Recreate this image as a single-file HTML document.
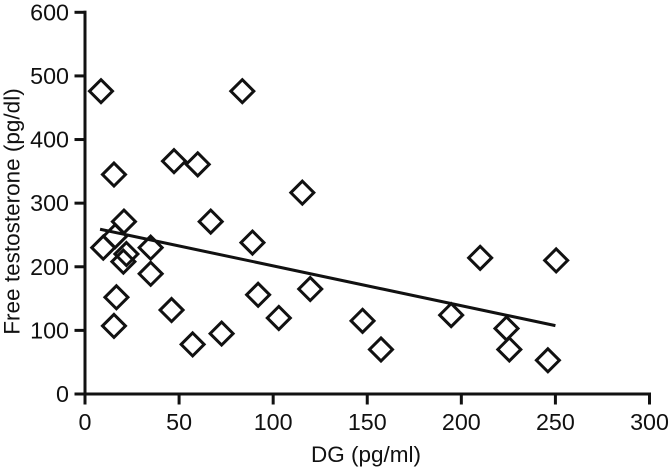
<!DOCTYPE html>
<html>
<head>
<meta charset="utf-8">
<title>DG vs free testosterone</title>
<style>
html,body{margin:0;padding:0;background:#fff;}
svg{display:block;}
text{font-family:"Liberation Sans",Arial,sans-serif;fill:#111;}
</style>
</head>
<body>
<svg id="chart" width="670" height="470" viewBox="0 0 670 470" xmlns="http://www.w3.org/2000/svg">
<text x="366" y="462" font-size="22.5" text-anchor="middle">DG (pg/ml)</text>
<text transform="translate(19.5 211.5) rotate(-90)" font-size="22.5" text-anchor="middle">Free testosterone (pg/dl)</text>
</svg>
<script>
const xTicks = [0, 50, 100, 150, 200, 250, 300];
const yTicks = [0, 100, 200, 300, 400, 500, 600];
const dgValues = [8.5, 83.6, 15.4, 47.3, 59.9, 115.5, 20.7, 66.8, 89, 9.7, 16, 22, 20.4, 34.9, 34.9, 16.7, 15.4, 46, 57.2, 72.6, 92, 103, 119.7, 147.5, 157.3, 194.6, 210, 250.4, 224, 225.5, 246];
const testosteroneValues = [476, 476, 345, 366, 361, 316.5, 271, 271, 238, 230, 248, 220, 208, 230, 189, 152, 107, 132, 78, 95, 156, 119.5, 165, 115, 70, 124, 214, 210, 103, 70, 53];
const trendX = [8, 250];
const trendY = [259, 107.5];

const svgNS = 'http://www.w3.org/2000/svg';
const svg = document.getElementById('chart');
const xAt = v => 85 + v * (564.5 / 300);
const yAt = v => 394 - v * (381.7 / 600);

function addLine(x1, y1, x2, y2, width, name) {
  const el = document.createElementNS(svgNS, 'line');
  el.setAttribute('x1', x1);
  el.setAttribute('y1', y1);
  el.setAttribute('x2', x2);
  el.setAttribute('y2', y2);
  el.setAttribute('stroke', '#111');
  el.setAttribute('stroke-width', width);
  el.setAttribute('stroke-linecap', 'square');
  
  
  svg.appendChild(el);
}

addLine(xAt(0), yAt(0), xAt(300), yAt(0), 3, 'x-axis-line');
addLine(xAt(0), yAt(0), xAt(0), yAt(600), 3, 'y-axis-line');

xTicks.forEach(t => {
  addLine(xAt(t), yAt(0), xAt(t), yAt(0) + 9, 3, 'x-axis-tick');
  const label = document.createElementNS(svgNS, 'text');
  label.setAttribute('x', xAt(t));
  label.setAttribute('y', 430);
  label.setAttribute('font-size', '23.3');
  label.setAttribute('text-anchor', 'middle');
  
  
  label.textContent = t;
  svg.appendChild(label);
});

yTicks.forEach(t => {
  addLine(xAt(0) - 9, yAt(t), xAt(0), yAt(t), 3, 'y-axis-tick');
  const label = document.createElementNS(svgNS, 'text');
  label.setAttribute('x', 69);
  label.setAttribute('y', yAt(t) + 8);
  label.setAttribute('font-size', '23.3');
  label.setAttribute('text-anchor', 'end');
  
  
  label.textContent = t;
  svg.appendChild(label);
});

const trend = document.createElementNS(svgNS, 'line');
trend.setAttribute('x1', xAt(trendX[0]));
trend.setAttribute('y1', yAt(trendY[0]));
trend.setAttribute('x2', xAt(trendX[1]));
trend.setAttribute('y2', yAt(trendY[1]));
trend.setAttribute('stroke', '#111');
trend.setAttribute('stroke-width', '3');


svg.appendChild(trend);

dgValues.forEach((d, i) => {
  const cx = xAt(d);
  const cy = yAt(testosteroneValues[i]);
  const r = 11.5;
  const pt = document.createElementNS(svgNS, 'polygon');
  pt.setAttribute('points', [[cx, cy - r], [cx + r, cy], [cx, cy + r], [cx - r, cy]].map(p => p.join(',')).join(' '));
  pt.setAttribute('fill', 'none');
  pt.setAttribute('stroke', '#111');
  pt.setAttribute('stroke-width', '3');
  
  
  svg.appendChild(pt);
});
</script>
</body>
</html>
